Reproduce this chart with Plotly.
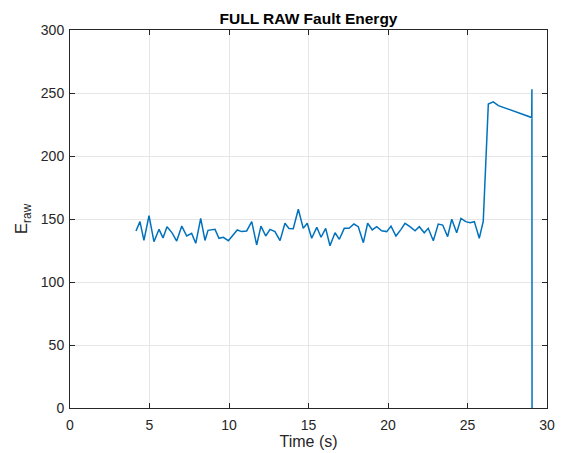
import plotly.graph_objects as go

time_s = [4.15, 4.40, 4.65, 4.97, 5.28, 5.60, 5.85, 6.10, 6.42, 6.71, 7.03, 7.34, 7.65, 7.91,
          8.22, 8.49, 8.68, 8.95, 9.12, 9.37, 9.64, 9.96, 10.23, 10.52, 10.80, 11.11, 11.43,
          11.74, 12.01, 12.31, 12.58, 12.89, 13.21, 13.52, 13.77, 14.04, 14.36, 14.67, 14.92,
          15.20, 15.52, 15.79, 16.08, 16.35, 16.67, 16.94, 17.25, 17.55, 17.86, 18.13, 18.45,
          18.72, 19.01, 19.29, 19.60, 19.92, 20.19, 20.50, 20.82, 21.07, 21.38, 21.70, 21.97,
          22.28, 22.53, 22.85, 23.16, 23.44, 23.75, 24.01, 24.32, 24.59, 24.89, 25.16, 25.43,
          25.74, 25.99, 26.31, 26.62, 26.94, 29.04, 29.05, 29.06]
energy = [140.5, 147.9, 133.0, 152.6, 132.0, 141.8, 135.0, 143.9, 139.0, 132.5, 144.4, 136.5,
          138.6, 130.7, 150.5, 133.0, 141.0, 141.8, 141.8, 134.7, 135.5, 132.8, 136.5, 141.3,
          140.0, 140.5, 147.9, 129.4, 144.4, 136.5, 141.8, 140.0, 132.8, 146.6, 142.5, 142.3,
          157.7, 142.6, 146.6, 134.7, 143.4, 135.5, 142.6, 128.8, 139.1, 133.9, 142.6, 142.6,
          146.0, 143.9, 131.2, 146.6, 141.3, 143.9, 140.7, 140.0, 144.4, 136.5, 141.8, 146.6,
          143.9, 140.7, 143.9, 139.1, 142.6, 132.8, 146.0, 145.2, 136.0, 149.8, 139.1, 150.5,
          147.9, 147.0, 147.9, 134.7, 148.0, 241.3, 243.0, 240.0, 230.5, 253.0, 0.0]

x_ticks = [0, 5, 10, 15, 20, 25, 30]
y_ticks = [0, 50, 100, 150, 200, 250, 300]

FONT = "Liberation Sans, Arial, sans-serif"

fig = go.Figure()
fig.add_trace(go.Scatter(x=time_s, y=energy, mode="lines",
                         line=dict(color="#0072BD", width=1.5), showlegend=False))

axis_common = dict(showline=True, linecolor="#262626", linewidth=1, mirror="ticks",
                   ticks="inside", ticklen=5, tickcolor="#262626",
                   showgrid=True, gridcolor="#e6e6e6", gridwidth=1, zeroline=False,
                   automargin=False,
                   tickfont=dict(family=FONT, size=14, color="#262626"))

fig.update_layout(
    width=562, height=453,
    margin=dict(l=70, r=15, t=30, b=45),
    paper_bgcolor="white", plot_bgcolor="white",
    title=dict(text="<b>FULL RAW Fault Energy</b>", x=0.5, xanchor="center", xref="paper",
               y=1, yref="paper", yanchor="bottom", pad=dict(b=6),
               font=dict(family=FONT, size=15.5, color="black")),
    xaxis=dict(range=[0, 30], tickvals=x_ticks, ticklabelstandoff=4,
               title=dict(text="Time (s)", standoff=2,
                          font=dict(family=FONT, size=16, color="#262626")),
               **axis_common),
    yaxis=dict(range=[0, 300], tickvals=y_ticks, ticklabelstandoff=2,
               title=dict(text="E<sub>raw</sub>", standoff=8,
                          font=dict(family=FONT, size=17, color="#262626")),
               **axis_common),
)

fig.write_html("out.html")
